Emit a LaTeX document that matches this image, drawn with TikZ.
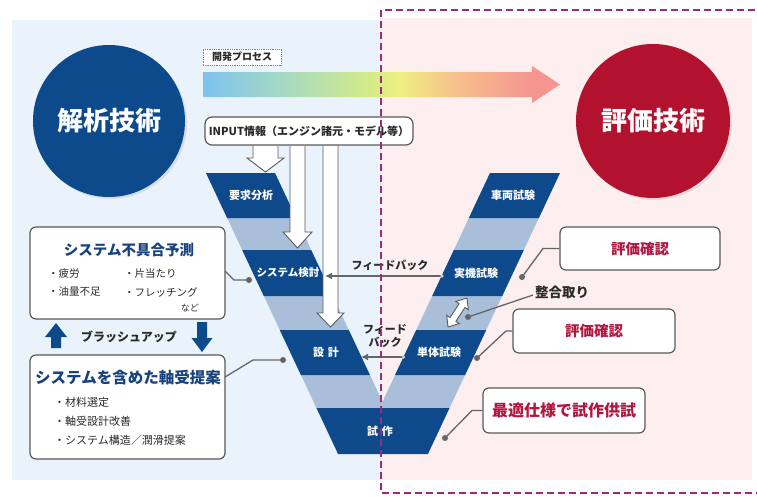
\documentclass[tikz,border=0pt]{standalone}
\usepackage{fontspec}
\setmainfont{Noto Sans CJK JP}
\usetikzlibrary{arrows.meta,shadows}
\definecolor{vblue}{HTML}{0E4A8B}
\definecolor{band}{HTML}{A9BFD9}
\definecolor{bgblue}{HTML}{EAF3FB}
\definecolor{bgpink}{HTML}{FDEEF0}
\definecolor{dashc}{HTML}{9A2C7C}
\definecolor{circblue}{HTML}{0D4A8C}
\definecolor{circred}{HTML}{B3122F}
\definecolor{titleblue}{HTML}{17427F}
\definecolor{redtext}{HTML}{B0163F}
\definecolor{boxgray}{HTML}{5A5A5A}
\definecolor{conngray}{HTML}{666666}
\definecolor{txtgray}{HTML}{2A2A2A}
\definecolor{ga}{HTML}{7DC3EF}
\definecolor{gb}{HTML}{A5D9C4}
\definecolor{gc}{HTML}{D2EA8A}
\definecolor{gd}{HTML}{EEF080}
\definecolor{ge}{HTML}{F7C28C}
\definecolor{gf}{HTML}{F4958F}
\pgfdeclarehorizontalshading{procgrad}{100bp}{color(0bp)=(ga); color(25bp)=(ga); color(36bp)=(gb); color(48bp)=(gc); color(52.5bp)=(gd); color(60bp)=(ge); color(71bp)=(gf); color(100bp)=(gf)}
\begin{document}
\begin{tikzpicture}[x=1pt,y=-1pt,
  vlabel/.style={text=white,font=\bfseries\fontsize{11}{13}\selectfont,inner sep=0pt},
  rbox/.style={draw=boxgray,line width=1.2pt,rounded corners=6pt,fill=white,inner sep=0pt},
  hollow/.style={draw=boxgray,fill=white,line width=0.9pt,line join=miter},
  conn/.style={draw=conngray,line width=1.3pt},
  dotn/.style={circle,fill=conngray,inner sep=0pt,minimum size=6pt},
  fb/.style={draw=conngray,line width=1.6pt,-{Latex[length=7pt,width=7pt]}},
  fbtxt/.style={font=\bfseries\fontsize{11}{12.5}\selectfont,text=txtgray,inner sep=0pt,align=center},
  ttl/.style={font=\bfseries\fontsize{#1}{#1}\selectfont,text=titleblue,inner sep=0pt},
  bul/.style={font=\fontsize{10.5}{12}\selectfont,text=txtgray,inner sep=0pt,anchor=west},
  bigc/.style={circle,text=white,font=\bfseries\fontsize{26}{28}\selectfont,drop shadow={opacity=0.18,shadow xshift=2pt,shadow yshift=-2pt}}
]
\useasboundingbox (0,0) rectangle (757,496);
\clip (0,0) rectangle (757,496);
\fill[white] (0,0) rectangle (757,496);
\fill[bgblue] (12,20) rectangle (380,480);
\fill[bgpink] (380,18) rectangle (752,480);

% circles
\node[bigc,fill=circblue,minimum size=152pt] (anal) at (109,121) {解析技術};
\node[bigc,fill=circred,minimum size=154pt] (eval) at (653,121) {評価技術};

% process arrow
\shade[shading=procgrad] (203,72) -- (532,72) -- (532,66) -- (560,84.5) -- (532,103) -- (532,97) -- (203,97) -- cycle;
\node[draw=gray,densely dotted,line width=0.8pt,fill=white,minimum width=78pt,minimum height=16pt,inner sep=0pt,font=\bfseries\fontsize{10}{11}\selectfont,text=txtgray] (proc) at (242,57) {開発プロセス};

% INPUT box
\node[rbox,rounded corners=7pt,minimum width=208pt,minimum height=28pt,font=\bfseries\fontsize{11}{12}\selectfont,text=txtgray] (input) at (309,131) {INPUT情報（エンジン諸元・モデル等）};

% V band
\fill[band] (206,173) -- (275,173) -- (382.5,401.7) -- (490,173) -- (560,173) -- (449.55,408) -- (316.45,408) -- cycle;

% V boxes
\fill[vblue] (206,173) -- (275,173) -- (296.15,218) -- (227.15,218) -- cycle;
\node[vlabel] (req) at (251,195.5) {要求分析};
\fill[vblue] (242.19,250) -- (311.19,250) -- (332.81,296) -- (263.81,296) -- cycle;
\node[vlabel,font=\bfseries\fontsize{10.5}{12}\selectfont] (sys) at (288,273) {システム検討};
\fill[vblue] (279.79,330) -- (348.79,330) -- (369.94,375) -- (300.94,375) -- cycle;
\node[vlabel] (des) at (326,352.5) {設\hspace{4pt}計};
\fill[vblue] (316.45,408) -- (449.55,408) -- (427.93,454) -- (338.07,454) -- cycle;
\node[vlabel] (proto) at (380,431) {試\hspace{4pt}作};
\fill[vblue] (490,173) -- (560,173) -- (538.85,218) -- (468.85,218) -- cycle;
\node[vlabel] (veh) at (513,195.5) {車両試験};
\fill[vblue] (453.81,250) -- (523.81,250) -- (502.19,296) -- (432.19,296) -- cycle;
\node[vlabel] (act) at (476,273) {実機試験};
\fill[vblue] (416.21,330) -- (486.21,330) -- (465.06,375) -- (395.06,375) -- cycle;
\node[vlabel] (unit) at (439,352.5) {単体試験};

% hollow arrows from INPUT
\draw[hollow] (253,146) -- (253,158) -- (247,158) -- (265.5,172) -- (284,158) -- (278,158) -- (278,146);
\draw[hollow] (290,146) -- (290,232) -- (283,232) -- (297.5,248) -- (312,232) -- (305,232) -- (305,146);
\draw[hollow] (323,146) -- (323,313) -- (317,313) -- (330.5,327) -- (344,313) -- (338,313) -- (338,146);

% feedback arrows
\coordinate (actL) at (442,276);
\coordinate (sysR) at (325,276);
\coordinate (unitL) at (403.5,357);
\coordinate (desR) at (361,357);
\draw[fb] (actL) -- (sysR);
\draw[fb] (unitL) -- (desR);
\fill[gray!40] (actL) circle (1.8);
\fill[gray!40] (unitL) circle (1.8);
\node[fbtxt] (fb1) at (390,265) {フィードバック};
\node[fbtxt] (fb2) at (385,336) {フィード\\バック};

% double hollow arrow
\begin{scope}[shift={(457.5,312.5)},rotate=56.8]
\draw[hollow] (17.3,0) -- (8.3,7.5) -- (8.3,3.5) -- (-8.3,3.5) -- (-8.3,7.5) -- (-17.3,0) -- (-8.3,-7.5) -- (-8.3,-3.5) -- (8.3,-3.5) -- (8.3,-7.5) -- cycle;
\end{scope}

% left boxes
\node[rbox,minimum width=195pt,minimum height=92pt] (prob) at (127.5,273) {};
\node[ttl=14.5] (probT) at (129,250) {システム不具合予測};
\node[bul] (b1) at (48,274) {・疲労};
\node[bul] (b2) at (124,274) {・片当たり};
\node[bul] (b3) at (48,292) {・油量不足};
\node[bul] (b4) at (124,292) {・フレッチング};
\node[font=\fontsize{9}{10}\selectfont,text=txtgray,inner sep=0pt,anchor=east] (b5) at (199,308) {など};

\node[rbox,minimum width=195pt,minimum height=104pt] (prop) at (127.5,407) {};
\node[ttl=15.5] (propT) at (128,378) {システムを含めた軸受提案};
\node[bul,font=\fontsize{11}{12}\selectfont] (c1) at (54,402) {・材料選定};
\node[bul,font=\fontsize{11}{12}\selectfont] (c2) at (54,421) {・軸受設計改善};
\node[bul,font=\fontsize{11}{12}\selectfont] (c3) at (54,440) {・システム構造／潤滑提案};

% brush-up arrows
\fill[circblue] (51,348) -- (51,337) -- (45,337) -- (56,323) -- (67,337) -- (61,337) -- (61,348) -- cycle;
\fill[circblue] (197,322) -- (197,338) -- (191.5,338) -- (202,352) -- (212.5,338) -- (207,338) -- (207,322) -- cycle;
\node[font=\bfseries\fontsize{12}{13}\selectfont,text=txtgray,inner sep=0pt] (brush) at (129,337) {ブラッシュアップ};

% left connectors
\node[dotn] (d1) at (249,280) {};
\node[dotn] (d2) at (283,360) {};
\draw[conn] (225,271) -- (234,280) -- (d1.center);
\draw[conn] (225,377) -- (253,360) -- (d2.center);

% right boxes
\node[rbox,minimum width=160pt,minimum height=43pt,text=redtext,font=\bfseries\fontsize{14.5}{15}\selectfont] (ev1) at (640,248.5) {評価確認};
\node[rbox,minimum width=162pt,minimum height=44pt,text=redtext,font=\bfseries\fontsize{14.5}{15}\selectfont] (ev2) at (594,331) {評価確認};
\node[rbox,minimum width=162pt,minimum height=45pt,text=redtext,font=\bfseries\fontsize{16}{17}\selectfont] (opt) at (564,410.5) {最適仕様で試作供試};
\node[font=\bfseries\fontsize{13.5}{14}\selectfont,text=txtgray,inner sep=0pt] (seigo) at (562,292) {整合取り};

% right connectors
\node[dotn] (d3) at (522,277) {};
\node[dotn] (d4) at (468,317) {};
\node[dotn] (d5) at (477,358) {};
\node[dotn] (d6) at (445,438) {};
\draw[conn] (ev1.west) -- (543,248.5) -- (d3.center);
\draw[conn] (533,295) -- (d4.center);
\draw[conn] (ev2.west) -- (506,331) -- (d5.center);
\draw[conn] (opt.west) -- (472,410.5) -- (d6.center);

% dashed frame
\draw[dashc,line width=1.6pt,dash pattern=on 7pt off 4pt] (381,10) rectangle (800,493);
\end{tikzpicture}
\end{document}
